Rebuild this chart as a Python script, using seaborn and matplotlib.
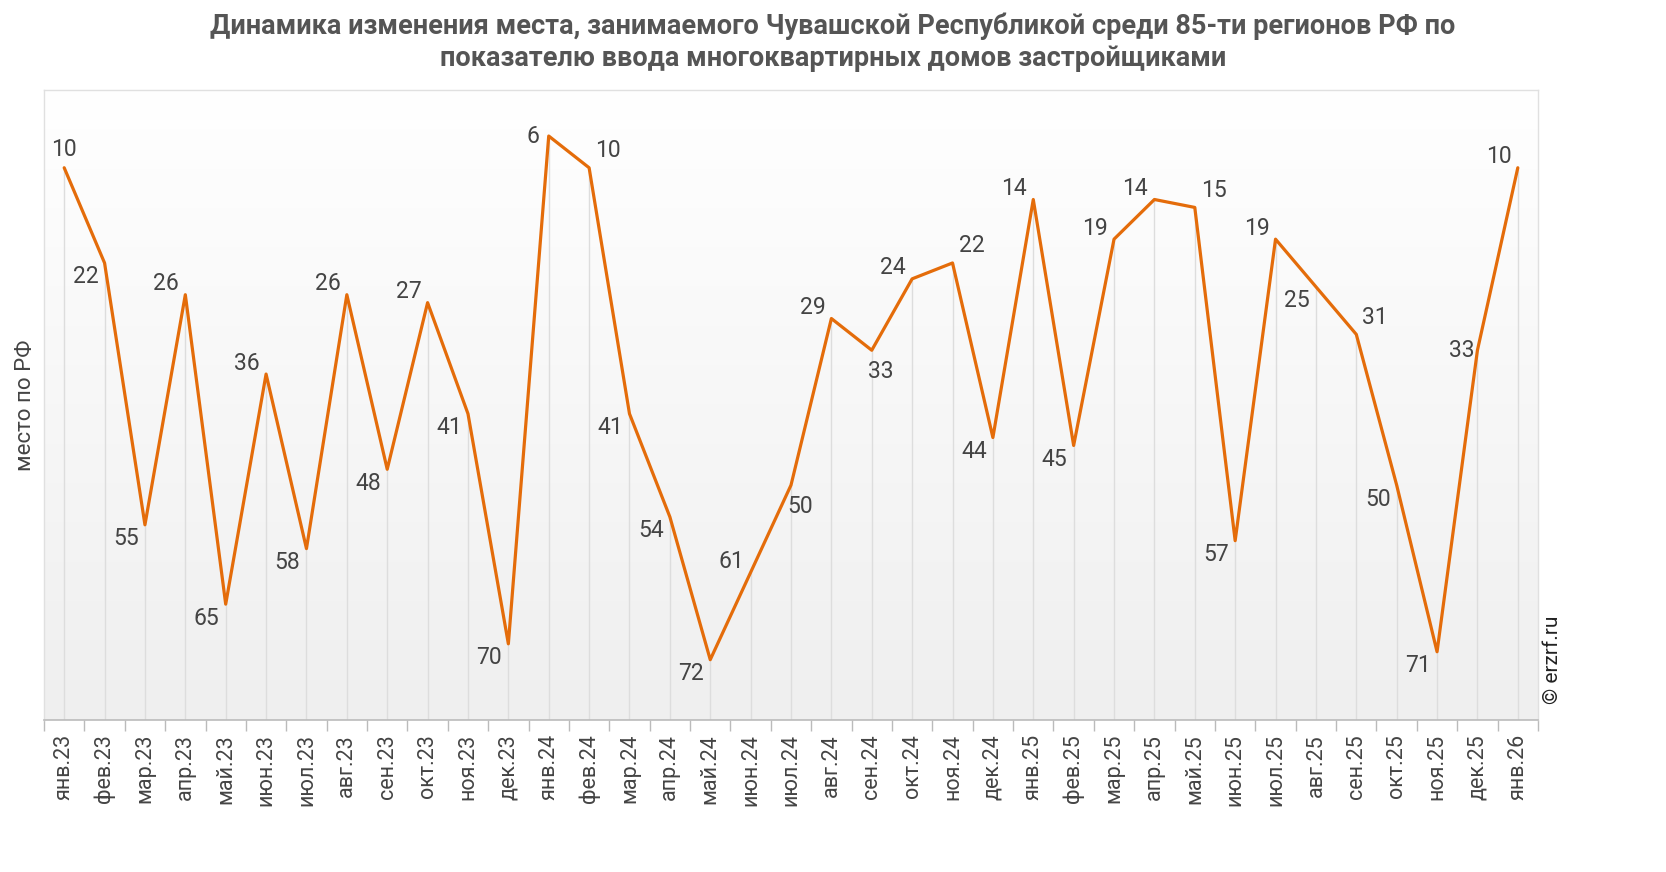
import numpy as np
import pandas as pd
import matplotlib
matplotlib.use("Agg")
import matplotlib.pyplot as plt
from matplotlib.colors import LinearSegmentedColormap
import seaborn as sns

months = ["янв.23", "фев.23", "мар.23", "апр.23", "май.23", "июн.23", "июл.23", "авг.23",
          "сен.23", "окт.23", "ноя.23", "дек.23", "янв.24", "фев.24", "мар.24", "апр.24",
          "май.24", "июн.24", "июл.24", "авг.24", "сен.24", "окт.24", "ноя.24", "дек.24",
          "янв.25", "фев.25", "мар.25", "апр.25", "май.25", "июн.25", "июл.25", "авг.25",
          "сен.25", "окт.25", "ноя.25", "дек.25", "янв.26"]
rank = [10, 22, 55, 26, 65, 36, 58, 26, 48, 27, 41, 70, 6, 10, 41, 54,
        72, 61, 50, 29, 33, 24, 22, 44, 14, 45, 19, 14, 15, 57, 19, 25,
        31, 50, 71, 33, 10]

# where each value label sits relative to its point
label_side = ["u", "dl", "dl", "ul", "dl", "ul", "dl", "ul", "dl", "ul", "dl", "dl",
              "l", "ur", "dl", "dl", "dl", "ul", "dr", "ul", "dr", "ul", "ur", "dl",
              "ul", "dl", "ul", "ul", "ur", "dl", "ul", "dl", "ur", "dl", "dl", "l", "ul"]
offsets = {"u": (0, 18), "ul": (-19, 11), "dl": (-19, -14), "ur": (19, 17),
           "dr": (9, -21), "l": (-16, 0)}

title = ("Динамика изменения места, занимаемого Чувашской Республикой среди 85-ти регионов РФ по\n"
         "показателю ввода многоквартирных домов застройщиками")

df = pd.DataFrame({"pos": np.arange(len(months)), "month": months, "rank": rank})

sns.set_style("white")
plt.rcParams["font.family"] = ["Roboto", "DejaVu Sans"]

fig = plt.figure(figsize=(16.66, 8.72), dpi=100)
ax = fig.add_axes([44 / 1666, 1 - 720 / 872, 1494 / 1666, 630 / 872])

# soft vertical gradient background
cmap = LinearSegmentedColormap.from_list("bg", ["#ffffff", "#efefef"])
ax.imshow(np.linspace(0, 1, 256).reshape(-1, 1), cmap=cmap, extent=[0, 1, 0, 1],
          transform=ax.transAxes, aspect="auto", zorder=0)

ymin, ymax = 0.2, 79.6
line_col = "#e46c0a"

# drop lines from each point to the axis
for p, r in zip(df["pos"], df["rank"]):
    ax.plot([p, p], [r, ymax], color="#dddddd", lw=1, zorder=1)

sns.lineplot(data=df, x="pos", y="rank", ax=ax, color=line_col, lw=2.3, zorder=3)

for p, r, s in zip(df["pos"], df["rank"], label_side):
    dx, dy = offsets[s]
    ax.annotate(str(r), (p, r), xytext=(dx, dy), textcoords="offset pixels",
                ha="center", va="center", fontsize=16.5, color="#444444", zorder=4)

ax.set_xlim(-0.5, len(months) - 0.5)
ax.set_ylim(ymax, ymin)
ax.set_xticks(df["pos"])
ax.set_xticklabels(months, rotation=90, fontsize=15.5, color="#444444")
ax.set_xticks(np.arange(len(months) + 1) - 0.5, minor=True)
ax.tick_params(axis="x", which="major", length=0, pad=10)
ax.tick_params(axis="x", which="minor", length=8, color="#bbbbbb", width=1, direction="out")
ax.tick_params(axis="x", which="both", bottom=True)
ax.set_yticks([])
ax.set_xlabel("")
ax.set_ylabel("место по РФ", fontsize=16, color="#444444", labelpad=6)

for side in ["top", "right", "left"]:
    ax.spines[side].set_color("#e0e0e0")
    ax.spines[side].set_linewidth(1)
ax.spines["bottom"].set_color("#bbbbbb")
ax.spines["bottom"].set_linewidth(1.2)

fig.text(0.5, 1 - 42 / 872, title, ha="center", va="center", fontsize=19.5,
         fontweight="bold", color="#555555", linespacing=1.25)
fig.text(1553 / 1666, 1 - 660 / 872, "© erzrf.ru", rotation=90, ha="center", va="center",
         fontsize=15, color="#222222")

fig.savefig("out.png", dpi=100)
